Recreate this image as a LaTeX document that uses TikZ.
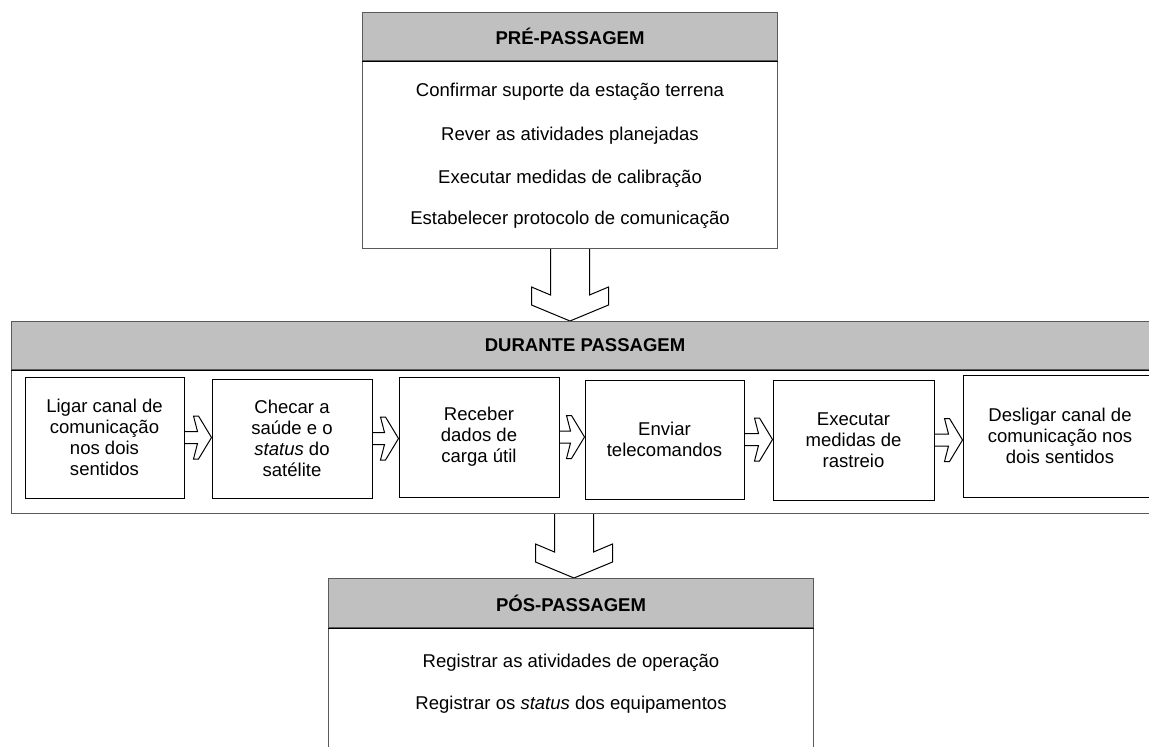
\documentclass[tikz,border=0pt]{standalone}
\usepackage{fontspec}
\setmainfont{Liberation Sans}
\usetikzlibrary{calc,positioning,backgrounds}
\definecolor{hdrgray}{HTML}{C0C0C0}
\definecolor{bordergray}{HTML}{5A5A5A}
% block arrow pointing down: shaft from #1, tip on #2
\newcommand{\blockdown}[2]{%
  \draw[blockarrow] ($(#1)+(-19.5,0)$) -- ($(#1 |- #2)+(-19.5,-26)$) -- ++(-19,-8) -- ++(0,18)
    -- (#1 |- #2) -- ++(38.5,-16) -- ++(0,-18) -- ++(-19,8) -- ($(#1)+(19.5,0)$);}
% block arrow pointing right: shaft from #1, tip on #2
\newcommand{\blockright}[2]{%
  \draw[blockarrow] ($(#1)+(0,-6)$) -- ($(#2 |- #1)+(-14,-6)$) -- ++(-4,-15.5) -- ++(5,0)
    -- (#2 |- #1) -- ++(-13,21.5) -- ++(-5,0) -- ++(4,-15.5) -- ($(#1)+(0,6)$);}

\begin{document}
\begin{tikzpicture}[x=.75pt,y=-.75pt,
    every node/.style={font=\fontsize{13.9}{15.75}\selectfont},
    stagebox/.style={draw=bordergray,line width=.75pt,inner sep=0pt,anchor=north west},
    headbox/.style={draw=bordergray,line width=.75pt,fill=hdrgray,inner sep=0pt,anchor=north,
      font=\fontsize{13.9}{15.75}\selectfont\bfseries},
    taskbox/.style={draw=black,line width=.75pt,inner sep=0pt,align=center},
    blockarrow/.style={draw=black,line width=.75pt,fill=white,line join=miter}]
    \useasboundingbox (0,0) rectangle (1149,746);
    \clip (0,0) rectangle (1149,746);

    % pre-passagem
    \node[stagebox,minimum width=415*.75pt,minimum height=236*.75pt] (pre) at (362,12) {};
    \node[headbox,minimum width=415*.75pt,minimum height=48*.75pt] (prehead) at (pre.north) {PRÉ-PASSAGEM};
    \draw[line width=.75pt] (prehead.south west) -- (prehead.south east);
    \node (pre1) at ($(pre.north)+(0,80)$) {Confirmar suporte da estação terrena};
    \node (pre2) at ($(pre.north)+(0,124)$) {Rever as atividades planejadas};
    \node (pre3) at ($(pre.north)+(0,167)$) {Executar medidas de calibração};
    \node (pre4) at ($(pre.north)+(0,208)$) {Estabelecer protocolo de comunicação};

    % durante passagem
    \node[stagebox,minimum width=1147*.75pt,minimum height=192*.75pt] (dur) at (11,321) {};
    \node[headbox,minimum width=1147*.75pt,minimum height=48*.75pt] (durhead) at (dur.north) {DURANTE PASSAGEM};
    \draw[line width=.75pt] (durhead.south west) -- (durhead.south east);

    \node[taskbox,minimum width=159*.75pt,minimum height=121*.75pt] (ligar) at (104.5,437.5)
      {Ligar canal de\\comunicação\\nos dois\\sentidos};
    \node[taskbox,minimum width=160*.75pt,minimum height=119*.75pt] (checar) at (292,438.5)
      {Checar a\\saúde e o\\\textit{status} do\\satélite};
    \node[taskbox,minimum width=160*.75pt,minimum height=120*.75pt] (receber) at (479,437)
      {Receber\\dados de\\carga útil};
    \node[taskbox,minimum width=159*.75pt,minimum height=119*.75pt] (enviar) at (664.5,439.5)
      {Enviar\\telecomandos};
    \node[taskbox,minimum width=161*.75pt,minimum height=120*.75pt] (rastreio) at (853.5,440)
      {Executar\\medidas de\\rastreio};
    \node[taskbox,minimum width=194*.75pt,minimum height=122*.75pt] (desligar) at (1060,436)
      {Desligar canal de\\comunicação nos\\dois sentidos};

    % pos-passagem
    \node[stagebox,minimum width=485*.75pt,minimum height=222*.75pt] (pos) at (328,578) {};
    \node[headbox,minimum width=485*.75pt,minimum height=49*.75pt] (poshead) at (pos.north) {PÓS-PASSAGEM};
    \draw[line width=.75pt] (poshead.south west) -- (poshead.south east);
    \node (pos1) at ($(pos.north)+(0,85)$) {Registrar as atividades de operação};
    \node (pos2) at ($(pos.north)+(0,127)$) {Registrar os \textit{status} dos equipamentos};

    % arrows
    \begin{scope}[on background layer]
    \blockdown{pre.south}{dur.north}
    \coordinate (a2) at ($(pos.north |- dur.south)+(3,0)$);
    \blockdown{a2}{pos.north}
    \blockright{ligar.east}{checar.west}
    \blockright{checar.east}{receber.west}
    \blockright{receber.east}{enviar.west}
    \blockright{enviar.east}{rastreio.west}
    \blockright{rastreio.east}{desligar.west}
    \end{scope}
\end{tikzpicture}
\end{document}
